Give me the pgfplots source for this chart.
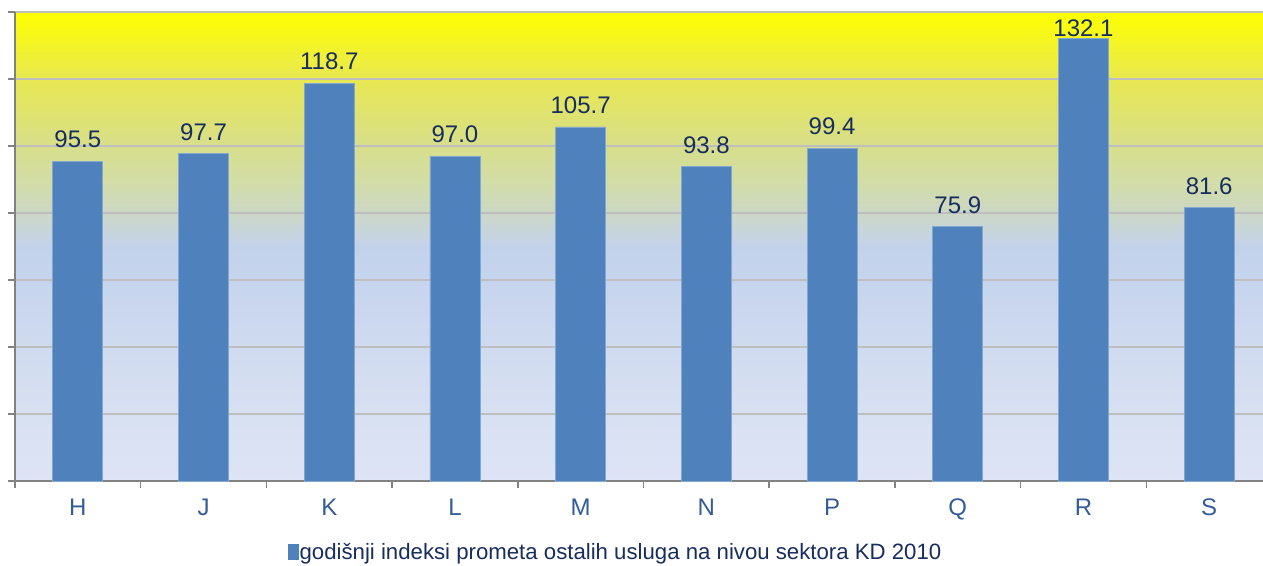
\documentclass[border=0pt]{standalone}
\usepackage{pgfplots}
\pgfplotsset{compat=1.18}
\usepackage{fontspec}
\setmainfont{Liberation Sans}
\definecolor{barblue}{RGB}{79,129,189}
\definecolor{lblnavy}{RGB}{23,45,94}
\definecolor{ticklbl}{RGB}{52,92,150}
\definecolor{gridgray}{RGB}{190,190,190}
\definecolor{axgray}{RGB}{130,130,130}
\pgfdeclareverticalshading{chartbg}{100bp}{%
 rgb(0bp)=(0.871,0.894,0.961);
 rgb(25bp)=(0.871,0.894,0.961);
 rgb(35.7bp)=(0.831,0.871,0.941);
 rgb(46.5bp)=(0.776,0.831,0.933);
 rgb(50bp)=(0.765,0.824,0.922);
 rgb(53.5bp)=(0.800,0.843,0.780);
 rgb(57bp)=(0.827,0.867,0.650);
 rgb(60.5bp)=(0.843,0.871,0.550);
 rgb(68bp)=(0.910,0.910,0.314);
 rgb(75bp)=(1,1,0);
 rgb(100bp)=(1,1,0)}
\begin{document}
\begin{tikzpicture}
\useasboundingbox (-15bp,-85bp) rectangle (1248bp,481bp);
\begin{axis}[
  scale only axis,
  width=1257bp, height=469bp,
  at={(0,0)}, anchor=south west,
  xmin=-0.5, xmax=9.5, ymin=0, ymax=140,
  axis background/.style={shading=chartbg},
  ybar, bar width=50bp, bar shift=0pt,
  xtick={0,...,9},
  xticklabels={H,J,K,L,M,N,P,Q,R,S},
  minor xtick={-0.5,0.5,...,9.5},
  ytick={0,20,...,140}, yticklabels={},
  major x tick style={draw=none},
  tick align=outside,
  major tick length=7bp, minor tick length=7bp,
  tick style={axgray, line width=1.5bp},
  minor tick style={axgray, line width=1.5bp},
  ymajorgrids, grid style={gridgray, line width=1.5bp},
  axis x line*=bottom, axis y line*=left,
  axis line style={axgray, line width=1.8bp, -},
  x tick label style={font=\fontsize{24bp}{26bp}\selectfont, text=ticklbl, yshift=-7bp},
  /pgf/number format/assume math mode=true,
  /pgf/number format/fixed,
  /pgf/number format/fixed zerofill,
  /pgf/number format/precision=1,
  nodes near coords,
  nodes near coords style={font=\fontsize{24bp}{26bp}\selectfont, text=lblnavy, anchor=south, inner sep=0pt},
  legend style={at={(rel axis cs:0.478,-0.151)}, anchor=center, draw=none, fill=none,
    font=\fontsize{22.2bp}{24bp}\selectfont, text=lblnavy, inner sep=0pt,
    /tikz/every even column/.append style={column sep=0pt}},
  legend image code/.code={\fill[barblue] (0bp,-7.5bp) rectangle (10bp,7.5bp);},
  clip=false,
]
\addplot[fill=barblue, draw=barblue!70!white, line width=0.8bp,
  every node near coord/.append style={yshift=13bp}] coordinates {
 (0,95.5) (1,97.7) (2,118.7) (3,97.0) (4,105.7) (5,93.8) (6,99.4) (7,75.9) (9,81.6)};
\addlegendentry{\hspace{-1.5bp}godišnji indeksi prometa ostalih usluga na nivou sektora KD 2010}
\addplot[fill=barblue, draw=barblue!70!white, line width=0.8bp, forget plot,
  every node near coord/.append style={yshift=1bp}] coordinates {(8,132.1)};
\end{axis}
\end{tikzpicture}
\end{document}
